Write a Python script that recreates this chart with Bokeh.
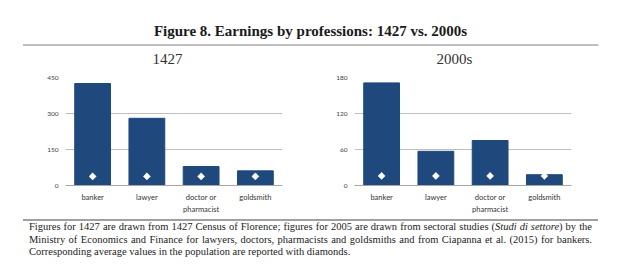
import math
from bokeh.plotting import figure
from bokeh.models import Range1d, FactorRange, Div, FixedTicker, CategoricalAxis, CustomJSTickFormatter
from bokeh.layouts import column, row
from bokeh.core.properties import value
from bokeh.embed import file_html
from bokeh.resources import INLINE

title_text = "Figure 8. Earnings by professions: 1427 vs. 2000s"
panel_titles = ["1427", "2000s"]
categories = ["banker", "lawyer", "doctor or pharmacist", "goldsmith"]
label_line1 = {"banker": "banker", "lawyer": "lawyer", "doctor or pharmacist": "doctor or", "goldsmith": "goldsmith"}
label_line2 = {"banker": "", "lawyer": "", "doctor or pharmacist": "pharmacist", "goldsmith": ""}
earn_1427 = [425, 280, 79, 61]
avg_1427 = [38, 38, 38, 38]
earn_2000s = [171, 57, 75, 18]
avg_2000s = [16, 16, 16, 16]
ticks_1427 = [0, 150, 300, 450]
ticks_2000s = [0, 60, 120, 180]
note_lines = [
    'Figures for 1427 are drawn from 1427 Census of Florence; figures for 2005 are drawn from sectoral studies '
    '(<i>Studi di settore</i>) by the',
    'Ministry of Economics and Finance for lawyers, doctors, pharmacists and goldsmiths and from Ciapanna et al. '
    '(2015) for bankers.',
    'Corresponding average values in the population are reported with diamonds.',
]

BAR = "#1F497D"
SERIF = "Liberation Serif"
SANS = "Lato"

# ---- header ----
hdr = figure(width=620, height=70, x_range=Range1d(0, 620), y_range=Range1d(70, 0),
             output_backend="svg", toolbar_location=None, min_border=0)
hdr.axis.visible = False
hdr.grid.visible = False
hdr.outline_line_color = None
hdr.text(x=[310], y=[30], text=[title_text], text_align="center", text_baseline="middle",
         text_font=value(SERIF), text_font_style="bold", text_font_size="15px", text_color="#1a1a1a")
hdr.segment(x0=[22.5], y0=[44.5], x1=[598], y1=[44.5], line_color="#7f7f7f", line_width=1)
hdr.text(x=[167, 454], y=[58.5, 58.5], text=panel_titles, text_align="center", text_baseline="middle",
         text_font=value(SERIF), text_font_size="15px", text_color="#333333")


def style_xaxis(ax, mapping, standoff, line_color):
    ax.axis_line_color = line_color
    ax.major_tick_line_color = None
    ax.minor_tick_line_color = None
    ax.major_tick_out = 0
    ax.major_tick_in = 0
    ax.minor_tick_out = 0
    ax.formatter = CustomJSTickFormatter(args=dict(m=mapping),
                                         code="return (tick in m) ? m[tick] : tick;")
    ax.major_label_text_font = SANS
    ax.major_label_text_font_size = "7.5px"
    ax.major_label_text_color = "#333333"
    ax.major_label_standoff = standoff


def make_chart(vals, avgs, ticks, ymax, bl, br):
    p = figure(width=310, height=146, x_range=FactorRange(*categories), y_range=Range1d(0, ymax),
               output_backend="svg", toolbar_location=None,
               min_border_left=bl, min_border_right=br, min_border_top=7, min_border_bottom=28)
    p.outline_line_color = None
    p.vbar(x=categories, top=vals, width=0.66, fill_color=BAR, line_color=BAR)
    p.scatter(x=categories, y=avgs, marker="square", angle=math.pi / 4, size=5,
              fill_color="white", line_color="white", line_width=0.5)
    p.xgrid.visible = False
    p.ygrid.grid_line_color = "#bfbfbf"
    p.ygrid.grid_line_width = 1
    p.ygrid.ticker = FixedTicker(ticks=ticks)
    p.yaxis.ticker = FixedTicker(ticks=ticks)
    p.yaxis.axis_line_color = None
    p.yaxis.major_tick_line_color = None
    p.yaxis.minor_tick_line_color = None
    p.yaxis.major_tick_out = 0
    p.yaxis.major_label_text_font = SANS
    p.yaxis.major_label_text_font_size = "6.5px"
    p.yaxis.major_label_text_color = "#404040"
    p.yaxis.major_label_standoff = 7
    style_xaxis(p.xaxis[0], label_line1, 7, "#a6a6a6")
    ax2 = CategoricalAxis()
    style_xaxis(ax2, label_line2, 0, None)
    p.add_layout(ax2, "below")
    return p


left = make_chart(earn_1427, avg_1427, ticks_1427, 450, 65, 28)
right = make_chart(earn_2000s, avg_2000s, ticks_2000s, 180, 44, 49)

line_style = "white-space:nowrap;height:12.5px;"
just = "text-align:justify;text-align-last:justify;"
foot_html = (
    '<div style="margin-left:23px;width:575px;border-top:2px solid #a0a0a0;margin-top:3px;"></div>'
    '<div style="margin-left:29px;width:563px;font-family:\'Liberation Serif\';'
    'font-size:10.5px;line-height:12.5px;color:#222222;">'
    f'<div style="{line_style}{just}">{note_lines[0]}</div>'
    f'<div style="{line_style}{just}">{note_lines[1]}</div>'
    f'<div style="{line_style}text-align:left;">{note_lines[2]}</div>'
    '</div>'
)
foot = Div(text=foot_html, width=620, height=48, margin=(0, 0, 0, 0))

layout = column(hdr, row(left, right, spacing=0), foot, spacing=0)
open("out.html", "w").write(file_html(layout, INLINE))
